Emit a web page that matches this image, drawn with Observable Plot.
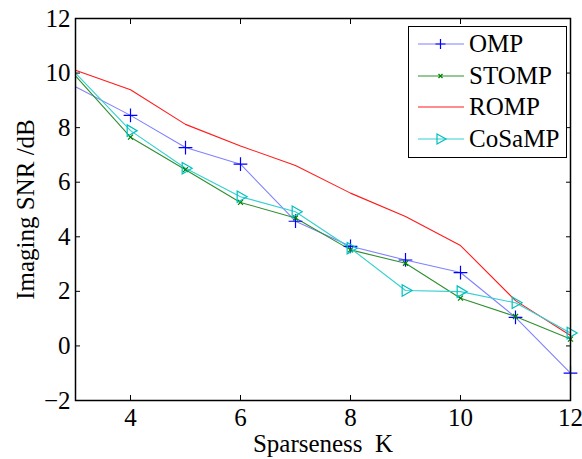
<!DOCTYPE html>
<html><head><meta charset="utf-8">
<script src="https://cdn.jsdelivr.net/npm/d3@7"></script>
<script src="https://cdn.jsdelivr.net/npm/@observablehq/plot@0.6"></script>
<style>
body{margin:0;background:#fff;}
#wrap{position:relative;width:582px;height:459px;font-family:"Liberation Serif","Times New Roman",serif;}
#legend{position:absolute;left:408px;top:26px;width:159px;height:132px;border:1.5px solid #000;background:#fff;box-sizing:border-box;}
.row{position:absolute;left:0;height:26px;display:flex;align-items:center;font-size:25px;color:#000;white-space:nowrap;}
.row svg{margin-left:9px;margin-right:5px;}
</style></head>
<body><div id="wrap"><div id="chart"></div><div id="legend"></div></div>
<script>
const K = [3,4,5,6,7,8,9,10,11,12];
const omp    = [9.5, 8.45, 7.27, 6.66, 4.57, 3.65, 3.15, 2.69, 1.05, -1.0];
const stomp  = [9.9, 7.65, 6.46, 5.26, 4.69, 3.52, 3.03, 1.75, 1.08, 0.25];
const romp   = [10.1, 9.39, 8.12, 7.33, 6.61, 5.6, 4.74, 3.68, 1.66, 0.38];
const cosamp = [10.0, 7.89, 6.51, 5.47, 4.92, 3.58, 2.03, 1.99, 1.58, 0.47];
const seriesNames = ["OMP","STOMP","ROMP","CoSaMP"];
const xTicks = [4,6,8,10,12];
const yTicks = [-2,0,2,4,6,8,10,12];

const lineColor = {OMP:"#8080ff", STOMP:"#2f8f2f", ROMP:"#ff1a1a", CoSaMP:"#33d0d0"};
const markColor = {OMP:"#0000ff", STOMP:"#008000", ROMP:"none", CoSaMP:"#00bfbf"};
const markSym = {OMP:"plus", STOMP:"times", ROMP:null, CoSaMP:"triangle2"};
const markR = {OMP:4.5, STOMP:2.4, ROMP:0, CoSaMP:5.5};

const vals = {OMP:omp, STOMP:stomp, ROMP:romp, CoSaMP:cosamp};
const rows = seriesNames.map(s => K.map((k,i)=>({k, v: vals[s][i], s})));

const marks = [];
for (const r of rows) {
  const s = r[0].s;
  marks.push(Plot.line(r, {x:"k", y:"v", stroke: lineColor[s], strokeWidth: 1.1}));
}
for (const r of rows) {
  const s = r[0].s;
  if (!markSym[s]) continue;
  const opts = {x:"k", y:"v", symbol: markSym[s], r: markR[s], stroke: markColor[s], strokeWidth: 1.2, fill:"none", filter: d => d.k > K[0]};
  if (s === "CoSaMP") opts.rotate = 90;
  marks.push(Plot.dot(r, opts));
}

const chart = Plot.plot({
  width: 582, height: 459,
  marginLeft: 75, marginRight: 12, marginTop: 18, marginBottom: 59,
  style: {fontFamily: '"Liberation Serif","Times New Roman",serif', fontSize: "25px", color:"#000", background:"#fff"},
  x: {domain:[3,12]},
  y: {domain:[-2,12]},
  marks: [
    ...marks,
    Plot.axisX(xTicks, {anchor:"bottom", tickSize:-5, tickPadding:13, fontSize:25, label:null}),
    Plot.axisX(xTicks, {anchor:"top", tickSize:-5, tickFormat:()=>"", label:null}),
    Plot.axisY(yTicks, {anchor:"left", tickSize:-5, tickPadding:10, fontSize:25, label:null}),
    Plot.axisY(yTicks, {anchor:"right", tickSize:-5, tickFormat:()=>"", label:null}),
    Plot.frame({stroke:"#000", strokeWidth:1.5}),
    Plot.text(["Sparseness  K"], {frameAnchor:"bottom", dy:51, fontSize:25, fill:"#000", text: d=>d}),
    Plot.text(["Imaging SNR /dB"], {frameAnchor:"left", textAnchor:"middle", lineAnchor:"middle", dx:-50, rotate:-90, fontSize:25, fill:"#000", text:d=>d})
  ]
});
document.getElementById("chart").appendChild(chart);

// legend
const leg = document.getElementById("legend");
seriesNames.forEach((s,i)=>{
  const row = document.createElement("div");
  row.className = "row";
  row.style.top = (4 + i*31.5) + "px";
  let sym = "";
  if (s==="OMP") sym = `<path d="M22.5,8V18M17.5,13H27.5" stroke="${markColor[s]}" stroke-width="1.2"/>`;
  if (s==="STOMP") sym = `<path d="M20.5,11L24.5,15M24.5,11L20.5,15" stroke="${markColor[s]}" stroke-width="1.2"/>`;
  if (s==="CoSaMP") sym = `<path d="M19,8L28,13L19,18Z" fill="none" stroke="${markColor[s]}" stroke-width="1.2"/>`;
  row.innerHTML = `<svg width="46" height="26"><line x1="0" x2="46" y1="13" y2="13" stroke="${lineColor[s]}" stroke-width="1"/>${sym}</svg><span>${s}</span>`;
  leg.appendChild(row);
});
</script></body></html>
